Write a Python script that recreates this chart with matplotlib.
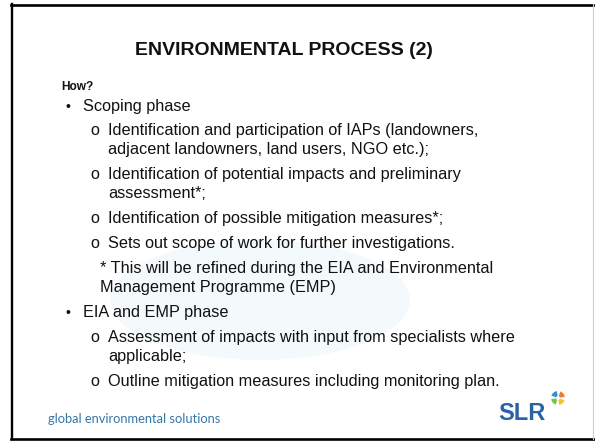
import matplotlib.pyplot as plt
from matplotlib.patches import Wedge, Ellipse

# slide content
title = "ENVIRONMENTAL PROCESS (2)"
heading = "How?"
scoping_phase = "Scoping phase"
scoping_items = [
    ["Identification and participation of IAPs (landowners,",
     "adjacent landowners, land users, NGO etc.);"],
    ["Identification of potential impacts and preliminary",
     "assessment*;"],
    ["Identification of possible mitigation measures*;"],
    ["Sets out scope of work for further investigations."],
]
note_lines = ["* This will be refined during the EIA and Environmental",
              "Management Programme (EMP)"]
eia_phase = "EIA and EMP phase"
eia_items = [
    ["Assessment of impacts with input from specialists where",
     "applicable;"],
    ["Outline mitigation measures including monitoring plan."],
]
footer = "global environmental solutions"
logo = "SLR"
logo_colors = ["#f4c430", "#7cc242", "#2f8fd8", "#f07b2c"]

body_font = "Liberation Sans"
body_size = 11.7
line_step = 19
para_step = 25

fig = plt.figure(figsize=(5.95, 4.41), dpi=100)
ax = fig.add_axes([0, 0, 1, 1])
ax.set_xlim(0, 595)
ax.set_ylim(441, 0)
ax.axis('off')

# barely visible glow in the background
ax.add_patch(Ellipse((260, 300), 300, 120, color='#f4fafc', lw=0))

# slide frame
ax.plot([11.5, 11.5], [4, 439], color='black', lw=1.7)
ax.plot([11, 595], [4.5, 4.5], color='black', lw=1.9)
ax.plot([11, 595], [438.5, 438.5], color='black', lw=1.9)
ax.plot([593, 593], [4, 439], color='#d0d0d0', lw=0.8)

ax.text(284, 55, title, ha='center', va='baseline', fontsize=14,
        fontweight='bold', family=body_font, color='#111111')
ax.text(61, 90, heading, ha='left', va='baseline', fontsize=8.6,
        fontweight='bold', family=body_font, color='#111111')


def body(x, y, s):
    ax.text(x, y, s, ha='left', va='baseline', fontsize=body_size,
            family=body_font, color='#111111')


def phase(y, s):
    ax.text(68, y, "\u2022", ha='center', va='baseline', fontsize=body_size - 1.5,
            family=body_font, color='#111111')
    body(83, y, s)


def items(y, groups):
    for k, lines in enumerate(groups):
        if k > 0:
            y += para_step
        body(90, y, "o")
        for j, s in enumerate(lines):
            if j > 0:
                y += line_step
            body(108, y, s)
    return y


y = 111
phase(y, scoping_phase)
y = items(y + 24, scoping_items)
y += para_step
for j, s in enumerate(note_lines):
    if j > 0:
        y += line_step
    body(100, y, s)
y += para_step
phase(y, eia_phase)
y = items(y + para_step, eia_items)

ax.text(48, 423, footer, ha='left', va='baseline', fontsize=9.3,
        family='Lato', color='#3478a6')
ax.text(498, 420, logo, ha='left', va='baseline', fontsize=17,
        fontweight='bold', family=body_font, color='#2a62a4')

# little swirl next to the logo
for k, c in enumerate(logo_colors):
    ax.add_patch(Wedge((558, 398), 7, 90 * k + 20, 90 * k + 80,
                       width=5, color=c, lw=0))

fig.savefig('out.png', dpi=100)
